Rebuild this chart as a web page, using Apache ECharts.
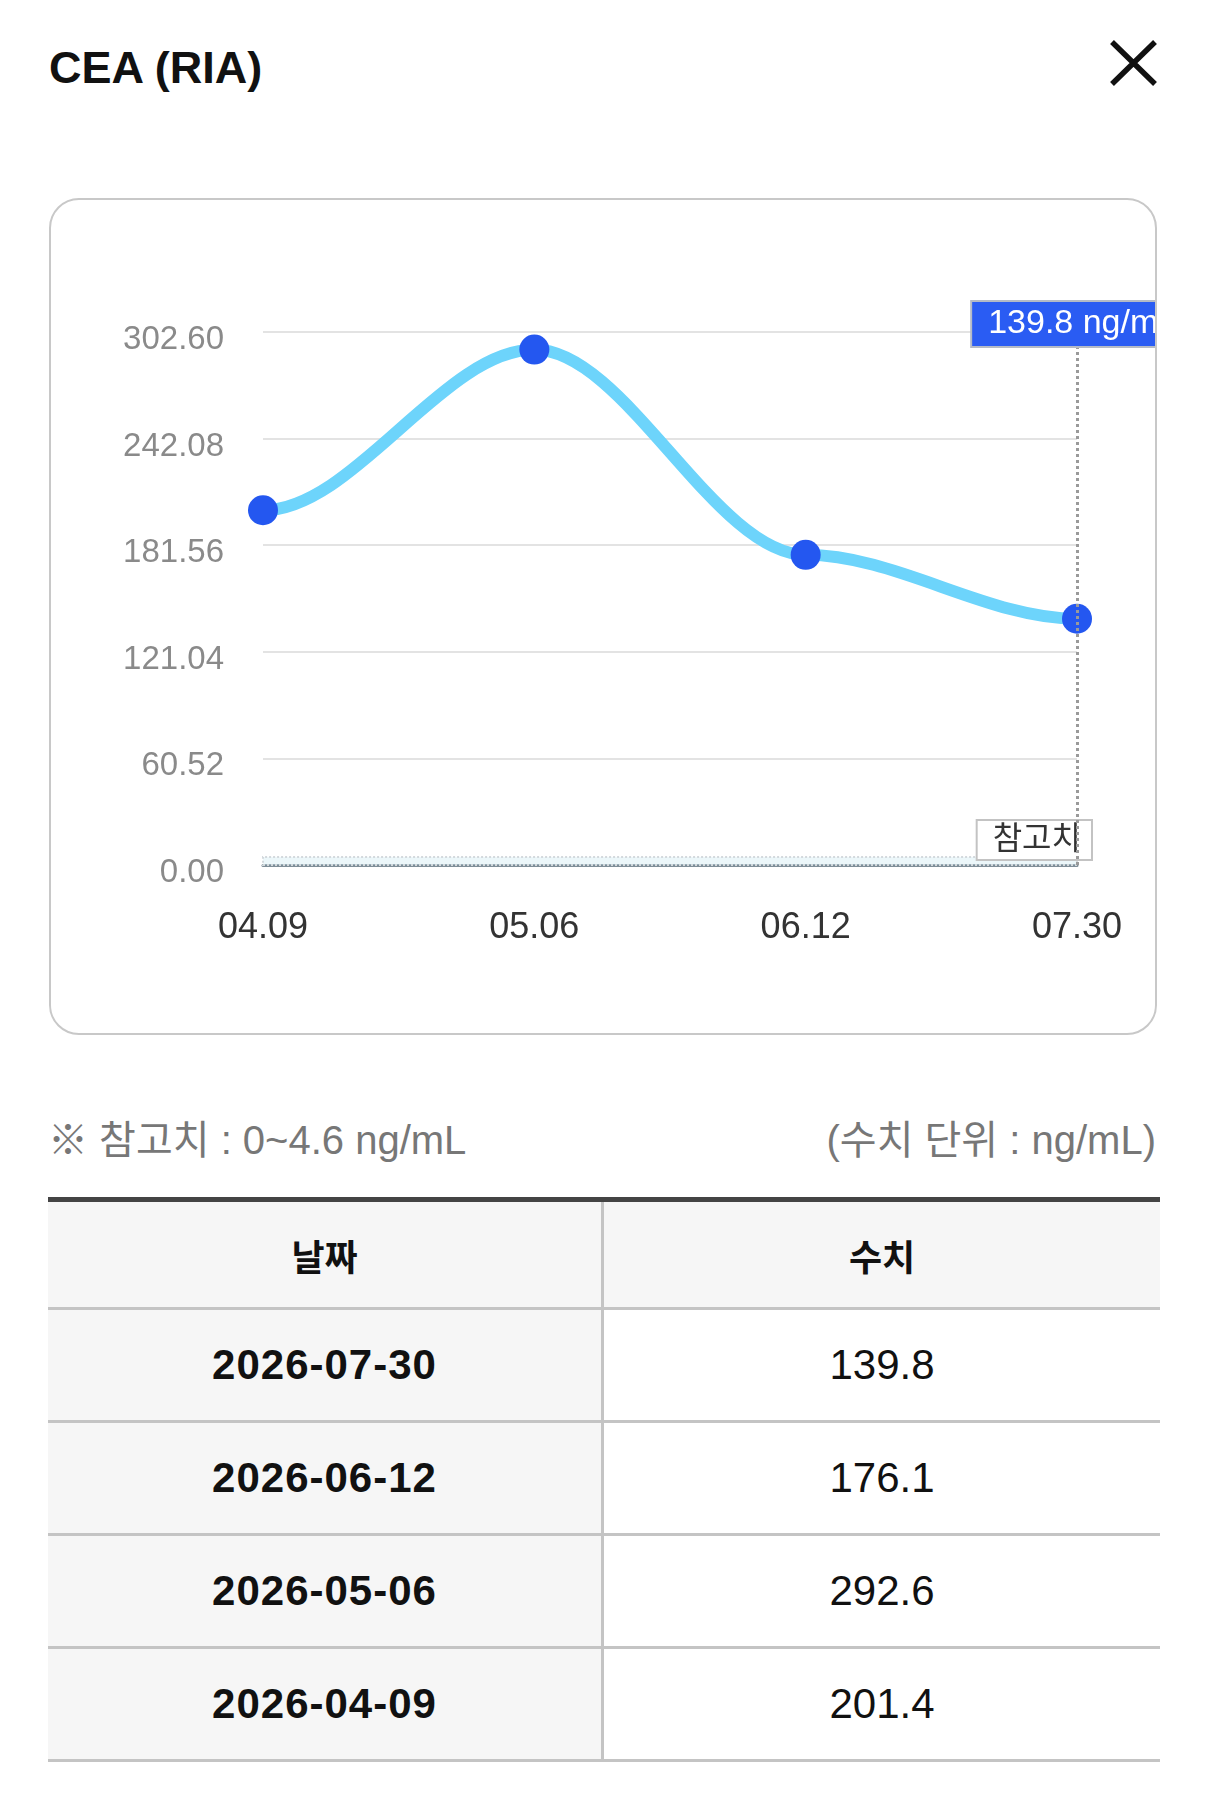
<!DOCTYPE html>
<html lang="ko">
<head>
<meta charset="utf-8">
<title>CEA (RIA)</title>
<script src="https://cdn.jsdelivr.net/npm/echarts@6/dist/echarts.min.js"></script>
<style>
  html, body { margin: 0; padding: 0; background: #fff; }
  body {
    width: 1206px; height: 1796px; position: relative; overflow: hidden;
    font-family: "Liberation Sans", "Noto Sans CJK KR", sans-serif; color: #111;
  }
  .title { position: absolute; left: 49px; top: 41px; font-size: 45px; font-weight: bold; line-height: 54px; }
  .close { position: absolute; left: 1109px; top: 40px; width: 49px; height: 46px; }
  .card {
    position: absolute; left: 49px; top: 198px; width: 1104px; height: 833px;
    border: 2px solid #c8c8c8; border-radius: 30px; overflow: hidden;
  }
  #chart { width: 1104px; height: 833px; }
  .note { position: absolute; top: 1116px; font-size: 40px; line-height: 48px; color: #777; }
  .note.left { left: 48px; }
  .note.right { right: 50px; }
  .table { position: absolute; left: 48px; top: 1197px; width: 1112px; border-top: 5px solid #444; }
  .row { display: flex; box-sizing: border-box; height: 113px; border-bottom: 3px solid #c4c4c4; }
  .row.head { height: 108px; background: #f6f6f6; font-weight: bold; font-size: 36px; }
  .cell {
    box-sizing: border-box; width: 556px; display: flex; align-items: center; justify-content: center;
  }
  .cell.first { border-right: 3px solid #c4c4c4; }
  .row.data .cell.first { background: #f6f6f6; font-weight: bold; font-size: 42px; letter-spacing: 1px; }
  .row.data .cell.second { font-size: 42px; }
</style>
</head>
<body>
<div class="title">CEA (RIA)</div>
<svg class="close" viewBox="0 0 49 46">
  <path d="M3 2 L46 44 M46 2 L3 44" stroke="#111" stroke-width="5.5" fill="none"/>
</svg>

<div class="card"><div id="chart"></div></div>

<div class="note left" id="refNote"></div>
<div class="note right" id="unitNote"></div>

<div class="table" id="table"></div>

<script>
// 검사 데이터
var dates = ['2026-04-09', '2026-05-06', '2026-06-12', '2026-07-30'];
var values = [201.4, 292.6, 176.1, 139.8];
var xLabels = ['04.09', '05.06', '06.12', '07.30'];

// y축 눈금
var yMin = 0;
var yMax = 302.6;
var yStep = 60.52;

// 참고치 범위
var refRange = [0, 4.6];
var unit = 'ng/mL';
var pointerUnit = 'ng/ml';

var last = values.length - 1;
var font = '"Liberation Sans", "Noto Sans CJK KR", sans-serif';

document.getElementById('refNote').textContent = '※ 참고치 : ' + refRange[0] + '~' + refRange[1] + ' ' + unit;
document.getElementById('unitNote').textContent = '(수치 단위 : ' + unit + ')';

// 표 (최근 날짜부터)
var html = '<div class="row head"><div class="cell first">날짜</div><div class="cell second">수치</div></div>';
for (var i = dates.length - 1; i >= 0; i--) {
  html += '<div class="row data"><div class="cell first">' + dates[i] +
    '</div><div class="cell second">' + values[i] + '</div></div>';
}
document.getElementById('table').innerHTML = html;

var chart = echarts.init(document.getElementById('chart'));

// 점 사이를 수평 접선 곡선으로 연결
function renderCurve(params, api) {
  var idx = params.dataIndex;
  if (idx >= last) return null;
  var p0 = api.coord([idx, values[idx]]);
  var p1 = api.coord([idx + 1, values[idx + 1]]);
  var dx = (p1[0] - p0[0]) / 3;
  return {
    type: 'bezierCurve',
    shape: {
      x1: p0[0], y1: p0[1],
      cpx1: p0[0] + dx, cpy1: p0[1],
      cpx2: p1[0] - dx, cpy2: p1[1],
      x2: p1[0], y2: p1[1]
    },
    style: { stroke: '#6dd4fb', lineWidth: 12, fill: null, lineCap: 'round' }
  };
}

var option = {
  animation: false,
  textStyle: { fontFamily: font },
  grid: { left: 212, right: 78, top: 132, bottom: 168 },
  xAxis: {
    type: 'category',
    data: xLabels,
    boundaryGap: false,
    axisTick: { show: false },
    axisLine: { lineStyle: { color: '#7f8e98', width: 3 } },
    axisLabel: { color: '#333', fontSize: 36, margin: 45, fontFamily: font }
  },
  yAxis: {
    type: 'value',
    min: yMin,
    max: yMax,
    interval: yStep,
    axisLine: { show: false },
    axisTick: { show: false },
    splitLine: { lineStyle: { color: '#e3e3e3', width: 2 } },
    axisLabel: {
      color: '#8a8a8a', fontSize: 33, margin: 39, fontFamily: font,
      formatter: function (v) { return '{v|' + v.toFixed(2) + '}'; },
      rich: {
        v: { color: '#8a8a8a', fontSize: 33, fontFamily: font, padding: [16, 0, 0, 0] }
      }
    }
  },
  series: [
    {
      type: 'custom',
      clip: false,
      silent: true,
      z: 2,
      data: values,
      renderItem: renderCurve
    },
    {
      type: 'line',
      data: values,
      z: 3,
      symbol: 'circle',
      symbolSize: 30,
      lineStyle: { width: 0, opacity: 0 },
      itemStyle: { color: '#2457f0' },
      markArea: {
        silent: true,
        itemStyle: {
          color: 'rgba(200, 232, 242, 0.35)',
          borderColor: '#d3d9dd',
          borderWidth: 2,
          borderType: 'dotted'
        },
        label: {
          show: true,
          position: 'insideRight',
          distance: 0,
          offset: [13, -21],
          formatter: '참고치',
          fontSize: 32,
          color: '#333',
          fontFamily: font,
          backgroundColor: '#fff',
          borderColor: '#c3c3c3',
          borderWidth: 2,
          padding: [4, 10, 2, 15]
        },
        data: [[{ yAxis: refRange[0] }, { yAxis: refRange[1] }]]
      },
      markLine: {
        silent: true,
        z: 4,
        symbol: ['none', 'none'],
        label: { show: false },
        lineStyle: { color: '#9a9a9a', width: 3, type: 'dotted' },
        data: [{ xAxis: xLabels[last] }]
      },
      markPoint: {
        silent: true,
        z: 6,
        symbol: 'rect',
        symbolSize: 1,
        itemStyle: { color: 'rgba(0,0,0,0)' },
        data: [
          {
            coord: [xLabels[last], yMax],
            label: {
              show: true,
              position: 'inside',
              offset: [0, -8],
              formatter: values[last] + ' ' + pointerUnit,
              fontSize: 34,
              color: '#fff',
              fontFamily: font,
              backgroundColor: '#2a5cf3',
              borderColor: '#b4bac6',
              borderWidth: 2,
              padding: [6, 16, 4, 16]
            }
          }
        ]
      }
    }
  ]
};

chart.setOption(option);
</script>
</body>
</html>
